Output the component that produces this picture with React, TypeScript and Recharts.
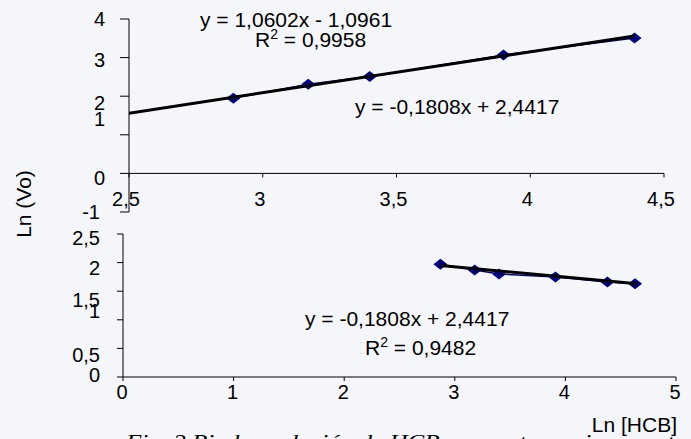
import React from 'react';
import { ScatterChart, Scatter, XAxis, YAxis, ReferenceLine } from 'recharts';

// Ln [HCB] vs Ln (Vo), upper panel
const topX = [2.89, 3.17, 3.4, 3.9, 4.39];
const topY = [1.95, 2.31, 2.51, 3.07, 3.51];
const topTrendX = [2.5, 4.39];
const topTrendY = [1.56, 3.56];

// lower panel
const bottomX = [2.87, 3.18, 3.4, 3.91, 4.38, 4.63];
const bottomY = [1.97, 1.87, 1.8, 1.75, 1.66, 1.63];
const bottomTrendX = [2.87, 4.65];
const bottomTrendY = [1.95, 1.63];

const topXTicks = [2.5, 3, 3.5, 4, 4.5];
const topYTicks = [-1, 0, 1, 2, 3, 4];
const bottomXTicks = [0, 1, 2, 3, 4, 5];
const bottomYTicks = [0, 0.5, 1, 1.5, 2, 2.5];

const toPoints = (xs: number[], ys: number[]) => xs.map((x, i) => ({ x, y: ys[i] }));

const FONT = '"Liberation Sans", Arial, sans-serif';
const MARKER = '#000080';
const fmt = (v: number) => String(v).replace('.', ',');

// label offsets seen in the original figure (overlapping labels)
const topYNudge: Record<string, [number, number]> = {
  '4': [0, 0], '3': [0, 2], '2': [0, 7], '1': [0, -16], '0': [0, 5], '-1': [-5, 0],
};
const bottomYNudge: Record<string, [number, number]> = {
  '2.5': [0, 4], '2': [0, 5], '1.5': [0, 9], '1': [0, -9], '0.5': [0, 7], '0': [0, -2],
};

// top panel geometry
const TOP_PLOT_TOP = 19;
const TOP_PLOT_BOTTOM = 212;
const ZERO_Y = TOP_PLOT_TOP + ((4 - 0) / (4 - -1)) * (TOP_PLOT_BOTTOM - TOP_PLOT_TOP);

const Diamond = (props: any) => {
  const { cx, cy } = props;
  if (cx == null || cy == null) return <g />;
  return (
    <polygon
      points={`${cx - 7},${cy} ${cx},${cy - 5.5} ${cx + 7},${cy} ${cx},${cy + 5.5}`}
      fill={MARKER}
    />
  );
};

const NoShape = () => <g />;

const makeYTick = (nudges: Record<string, [number, number]>) => (props: any) => {
  const { x, y, payload } = props;
  const [dx, dy] = nudges[String(payload.value)] ?? [0, 0];
  return (
    <text x={x + dx} y={y + dy + 7} textAnchor="end" fontSize={20} fontFamily={FONT} fill="#000">
      {fmt(payload.value)}
    </text>
  );
};

const TopXTick = (props: any) => {
  const { x, payload } = props;
  return (
    <g>
      <line x1={x} x2={x} y1={ZERO_Y} y2={ZERO_Y + 4} stroke="#000" />
      <text x={x - 3} y={ZERO_Y + 33} textAnchor="middle" fontSize={20} fontFamily={FONT} fill="#000">
        {fmt(payload.value)}
      </text>
    </g>
  );
};

const BottomXTick = (props: any) => {
  const { x, y, payload } = props;
  return (
    <text x={x - 1} y={y + 14} textAnchor="middle" fontSize={20} fontFamily={FONT} fill="#000">
      {fmt(payload.value)}
    </text>
  );
};

const txt = { fontSize: 21, fontFamily: FONT, fill: '#000' };

export default function App() {
  return (
    <div style={{ position: 'absolute', left: 0, top: 0, width: 691, height: 439, background: '#f5f6fa', overflow: 'hidden' }}>
      <div style={{ position: 'absolute', left: 0, top: 0 }}>
        <ScatterChart width={691} height={232} margin={{ top: TOP_PLOT_TOP, right: 27, bottom: 12, left: 69 }}>
          <XAxis
            type="number"
            dataKey="x"
            domain={[2.5, 4.5]}
            ticks={topXTicks}
            interval={0}
            axisLine={false}
            tickLine={false}
            height={8}
            tick={TopXTick}
            allowDataOverflow
          />
          <YAxis
            type="number"
            dataKey="y"
            domain={[-1, 4]}
            ticks={topYTicks}
            interval={0}
            width={60}
            axisLine={{ stroke: '#000' }}
            tickLine={{ stroke: '#000' }}
            tickSize={9}
            tickMargin={15}
            tick={makeYTick(topYNudge)}
            allowDataOverflow
          />
          <ReferenceLine y={0} stroke="#000" />
          <Scatter
            data={toPoints(topX, topY)}
            line={{ stroke: MARKER, strokeWidth: 1.5 }}
            shape={Diamond}
            isAnimationActive={false}
          />
          <Scatter
            data={toPoints(topTrendX, topTrendY)}
            line={{ stroke: '#000', strokeWidth: 3 }}
            shape={NoShape}
            isAnimationActive={false}
          />
        </ScatterChart>
      </div>
      <div style={{ position: 'absolute', left: 0, top: 220 }}>
        <ScatterChart width={691} height={219} margin={{ top: 14, right: 15, bottom: 22, left: 63 }}>
          <XAxis
            type="number"
            dataKey="x"
            domain={[0, 5]}
            ticks={bottomXTicks}
            interval={0}
            axisLine={{ stroke: '#000' }}
            tickLine={{ stroke: '#000' }}
            tickSize={4}
            tickMargin={4}
            height={40}
            tick={BottomXTick}
          />
          <YAxis
            type="number"
            dataKey="y"
            domain={[0, 2.5]}
            ticks={bottomYTicks}
            interval={0}
            width={60}
            axisLine={{ stroke: '#000' }}
            tickLine={{ stroke: '#000' }}
            tickSize={6}
            tickMargin={17}
            tick={makeYTick(bottomYNudge)}
          />
          <Scatter
            data={toPoints(bottomX, bottomY)}
            line={{ stroke: MARKER, strokeWidth: 1.5 }}
            shape={Diamond}
            isAnimationActive={false}
          />
          <Scatter
            data={toPoints(bottomTrendX, bottomTrendY)}
            line={{ stroke: '#000', strokeWidth: 3 }}
            shape={NoShape}
            isAnimationActive={false}
          />
        </ScatterChart>
      </div>
      <svg width={691} height={439} style={{ position: 'absolute', left: 0, top: 0, pointerEvents: 'none' }}>
        <text x={200} y={27} {...txt}>y = 1,0602x - 1,0961</text>
        <text x={255} y={47} {...txt}>
          R<tspan fontSize={14} dy={-8}>2</tspan>
          <tspan dy={8}> = 0,9958</tspan>
        </text>
        <text x={355} y={114} {...txt}>y = -0,1808x + 2,4417</text>
        <text x={305} y={326} {...txt}>y = -0,1808x + 2,4417</text>
        <text x={365} y={355} {...txt}>
          R<tspan fontSize={14} dy={-8}>2</tspan>
          <tspan dy={8}> = 0,9482</tspan>
        </text>
        <text x={677} y={432} textAnchor="end" {...txt}>Ln [HCB]</text>
        <text x={31} y={204} textAnchor="middle" transform="rotate(-90 31 204)" {...txt}>Ln (Vo)</text>
        <text
          x={126}
          y={449}
          fontSize={22}
          fontStyle="italic"
          fontFamily='"Liberation Serif", "Times New Roman", serif'
          fill="#000"
          textLength={559}
          lengthAdjust="spacingAndGlyphs"
        >
          Fig. 2 Biodegradación de HCB en reactores sin soporte
        </text>
      </svg>
    </div>
  );
}
